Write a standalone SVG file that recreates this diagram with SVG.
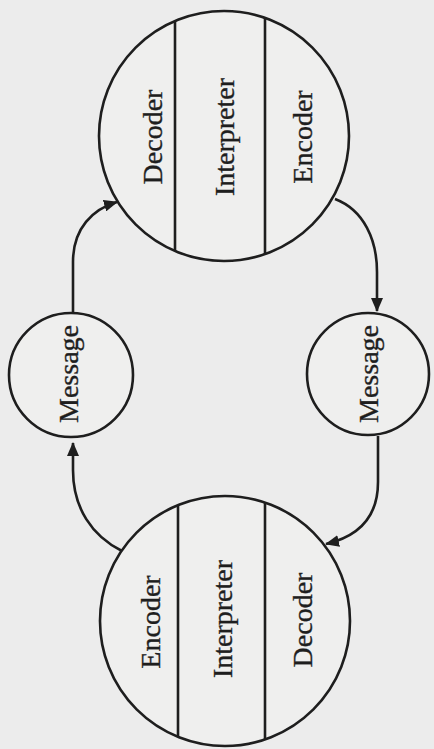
<svg xmlns="http://www.w3.org/2000/svg" width="434" height="749" viewBox="0 0 434 749">
<style>
.bg{fill:#ececec}
.node{fill:#efefee;stroke:#1e1e1e;stroke-width:2.6}
.div{stroke:#1e1e1e;stroke-width:2.6;fill:none}
.lbl{font-family:"Liberation Serif","Times New Roman",serif;font-size:28px;fill:#1e1e1e;stroke:#1e1e1e;stroke-width:0.35;text-anchor:middle}
.edge{fill:none;stroke:#1e1e1e;stroke-width:2.6}
</style>
<defs>
<marker id="ah" viewBox="0 0 14 12" refX="13" refY="6" markerWidth="14" markerHeight="12" markerUnits="userSpaceOnUse" orient="auto">
<path d="M0,0 L14,6 L0,12 Z" fill="#1e1e1e"/>
</marker>
</defs>
<rect class="bg" x="0" y="0" width="434" height="749"/>

<g id="connectors">
<path class="edge" d="M122,551 C92,536 73,508 73,470 L73,443" marker-end="url(#ah)"/>
<path class="edge" d="M73,312 L73,262 C73,228 93,209 117,202" marker-end="url(#ah)"/>
<path class="edge" d="M335,199 C364,210 377,240 377,272 L377,311" marker-end="url(#ah)"/>
<path class="edge" d="M378,436 L378,482 C378,515 360,536 326,544" marker-end="url(#ah)"/>
</g>

<g id="receiver-top">
<circle class="node" cx="224" cy="136" r="125"/>
<line class="div" x1="175" y1="21" x2="175" y2="251"/>
<line class="div" x1="265" y1="18" x2="265" y2="254"/>
<text class="lbl" transform="translate(162,137) rotate(-90)">Decoder</text>
<text class="lbl" transform="translate(234,137) rotate(-90)">Interpreter</text>
<text class="lbl" transform="translate(312,137) rotate(-90)">Encoder</text>
</g>

<g id="sender-bottom">
<circle class="node" cx="225" cy="621" r="125"/>
<line class="div" x1="178" y1="505" x2="178" y2="737"/>
<line class="div" x1="265" y1="503" x2="265" y2="739"/>
<text class="lbl" transform="translate(160,622) rotate(-90)">Encoder</text>
<text class="lbl" transform="translate(232,619) rotate(-90)">Interpreter</text>
<text class="lbl" transform="translate(312,620) rotate(-90)">Decoder</text>
</g>

<g id="message-left">
<circle class="node" cx="71" cy="375" r="62"/>
<text class="lbl" transform="translate(78,374) rotate(-90)">Message</text>
</g>

<g id="message-right">
<circle class="node" cx="368" cy="374" r="61"/>
<text class="lbl" transform="translate(378,374) rotate(-90)">Message</text>
</g>
</svg>
